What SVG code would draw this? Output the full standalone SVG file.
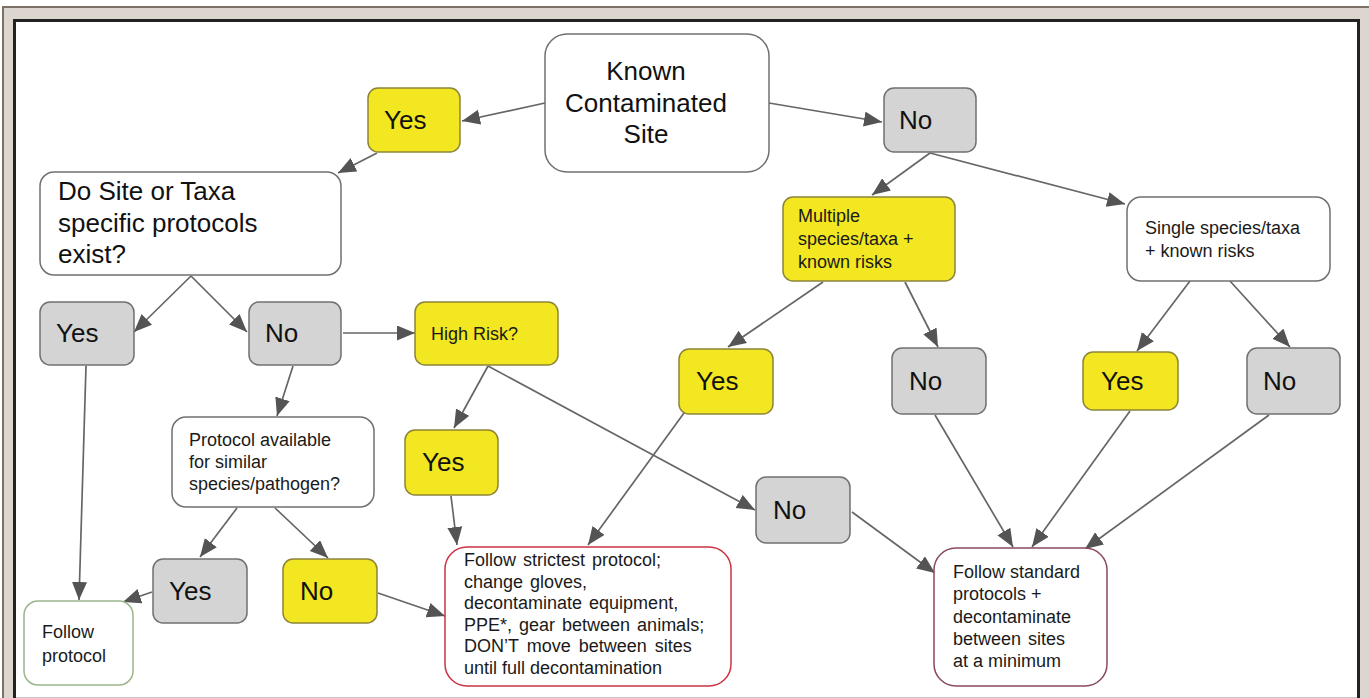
<svg xmlns="http://www.w3.org/2000/svg" width="1369" height="698" viewBox="0 0 1369 698">
<defs>
<marker id="ah" markerUnits="userSpaceOnUse" markerWidth="19" markerHeight="16" refX="18" refY="7.5" orient="auto" viewBox="0 0 19 16">
<path d="M0,0 L18,7.5 L0,15 Z" fill="#545454"/>
</marker>
</defs>
<style>
.big{font-family:"Liberation Sans",Arial,sans-serif;font-size:26px;fill:#111}
.sm{font-family:"Liberation Sans",Arial,sans-serif;font-size:18px;fill:#1a1a1a}
.y{fill:#f2e721;stroke:#8c8538;stroke-width:1.5}
.g{fill:#d4d4d4;stroke:#707070;stroke-width:1.5}
.w{fill:#fff;stroke:#707070;stroke-width:1.5}
#connectors line{stroke:#666;stroke-width:1.7;fill:none;marker-end:url(#ah)}
</style>
<rect width="1369" height="698" fill="#fff"/>
<rect x="3" y="7" width="1370" height="700" fill="#ddd6cf" stroke="#7d7065" stroke-width="2"/>
<rect x="16" y="22" width="1341" height="676" fill="#fff"/>
<path d="M14.5,698 V20.5 H1358.5 V698" fill="none" stroke="#222" stroke-width="3"/>
<line x1="16" y1="697.5" x2="1357" y2="697.5" stroke="#c8c8c8" stroke-width="1"/>

<g id="connectors">
<line x1="545" y1="103" x2="462" y2="121"/>
<line x1="769" y1="103" x2="882" y2="122"/>
<line x1="377" y1="153" x2="338" y2="173"/>
<line x1="930" y1="153" x2="872" y2="195"/>
<line x1="930" y1="153" x2="1125" y2="204"/>
<line x1="191" y1="276" x2="134" y2="332"/>
<line x1="191" y1="276" x2="247" y2="332"/>
<line x1="343" y1="333" x2="415" y2="333"/>
<line x1="293" y1="366" x2="277" y2="416"/>
<line x1="86" y1="366" x2="79" y2="600"/>
<line x1="488" y1="366" x2="454" y2="428"/>
<line x1="488" y1="366" x2="755" y2="510"/>
<line x1="823" y1="282" x2="728" y2="347"/>
<line x1="905" y1="282" x2="938" y2="347"/>
<line x1="1190" y1="281" x2="1137" y2="351"/>
<line x1="1230" y1="281" x2="1290" y2="347"/>
<line x1="692" y1="402" x2="588" y2="545"/>
<line x1="935" y1="415" x2="1013" y2="547"/>
<line x1="1130" y1="411" x2="1032" y2="547"/>
<line x1="1269" y1="415" x2="1085" y2="549"/>
<line x1="852" y1="512" x2="935" y2="573"/>
<line x1="451" y1="496" x2="457" y2="545"/>
<line x1="237" y1="508" x2="200" y2="557"/>
<line x1="275" y1="508" x2="328" y2="558"/>
<line x1="378" y1="593" x2="445" y2="616"/>
<line x1="152" y1="592" x2="123" y2="602"/>
</g>

<g id="n-known">
<rect class="w" x="545" y="34" width="224" height="138" rx="22"/>
<text class="big" x="646" y="80" text-anchor="middle">Known</text>
<text class="big" x="646" y="112" text-anchor="middle">Contaminated</text>
<text class="big" x="646" y="143" text-anchor="middle">Site</text>
</g>
<g id="n-yes-top">
<rect class="y" x="368" y="88" width="92" height="64" rx="10"/>
<text class="big" x="384" y="129">Yes</text>
</g>
<g id="n-no-top">
<rect class="g" x="884" y="88" width="92" height="64" rx="10"/>
<text class="big" x="899" y="129">No</text>
</g>
<g id="n-dosite">
<rect class="w" x="40" y="172" width="301" height="103" rx="14"/>
<text class="big" x="58" y="200">Do Site or Taxa</text>
<text class="big" x="58" y="232">specific protocols</text>
<text class="big" x="58" y="263">exist?</text>
</g>
<g id="n-yes-left">
<rect class="g" x="40" y="302" width="94" height="63" rx="10"/>
<text class="big" x="56" y="342">Yes</text>
</g>
<g id="n-no-left">
<rect class="g" x="249" y="302" width="92" height="63" rx="10"/>
<text class="big" x="265" y="342">No</text>
</g>
<g id="n-highrisk">
<rect class="y" x="415" y="302" width="143" height="63" rx="10"/>
<text class="sm" x="431" y="340">High Risk?</text>
</g>
<g id="n-protocol-available">
<rect class="w" x="172" y="417" width="202" height="90" rx="14"/>
<text class="sm" x="189" y="446">Protocol available</text>
<text class="sm" x="189" y="468">for similar</text>
<text class="sm" x="189" y="490">species/pathogen?</text>
</g>
<g id="n-yes-hr">
<rect class="y" x="405" y="430" width="93" height="65" rx="10"/>
<text class="big" x="422" y="471">Yes</text>
</g>
<g id="n-multiple">
<rect class="y" x="783" y="197" width="172" height="84" rx="10"/>
<text class="sm" x="798" y="222">Multiple</text>
<text class="sm" x="798" y="245">species/taxa +</text>
<text class="sm" x="798" y="268">known risks</text>
</g>
<g id="n-single">
<rect class="w" x="1127" y="197" width="203" height="84" rx="14"/>
<text class="sm" x="1145" y="234">Single species/taxa</text>
<text class="sm" x="1145" y="257">+ known risks</text>
</g>
<g id="n-yes-multi">
<rect class="y" x="679" y="349" width="94" height="65" rx="10"/>
<text class="big" x="696" y="390">Yes</text>
</g>
<g id="n-no-multi">
<rect class="g" x="892" y="348" width="94" height="66" rx="10"/>
<text class="big" x="909" y="390">No</text>
</g>
<g id="n-yes-single">
<rect class="y" x="1083" y="352" width="95" height="58" rx="10"/>
<text class="big" x="1101" y="390">Yes</text>
</g>
<g id="n-no-single">
<rect class="g" x="1247" y="348" width="93" height="66" rx="10"/>
<text class="big" x="1263" y="390">No</text>
</g>
<g id="n-no-hr">
<rect class="g" x="756" y="477" width="94" height="66" rx="10"/>
<text class="big" x="773" y="519">No</text>
</g>
<g id="n-yes-protocol">
<rect class="g" x="153" y="559" width="94" height="64" rx="10"/>
<text class="big" x="169" y="600">Yes</text>
</g>
<g id="n-no-protocol">
<rect class="y" x="283" y="559" width="94" height="64" rx="10"/>
<text class="big" x="300" y="600">No</text>
</g>
<g id="n-follow-protocol">
<rect x="24" y="601" width="109" height="84" rx="14" fill="#fff" stroke="#9bb58c" stroke-width="1.5"/>
<text class="sm" x="42" y="638">Follow</text>
<text class="sm" x="42" y="662">protocol</text>
</g>
<g id="n-strictest">
<rect x="445" y="547" width="286" height="139" rx="22" fill="#fff" stroke="#cc3344" stroke-width="1.5"/>
<text class="sm" x="464" y="566" word-spacing="2">Follow strictest protocol;</text>
<text class="sm" x="464" y="588" word-spacing="2">change gloves,</text>
<text class="sm" x="464" y="609" word-spacing="2">decontaminate equipment,</text>
<text class="sm" x="464" y="631" word-spacing="2">PPE*, gear between animals;</text>
<text class="sm" x="464" y="652" word-spacing="3">DON’T move between sites</text>
<text class="sm" x="464" y="674">until full decontamination</text>
</g>
<g id="n-standard">
<rect x="934" y="548" width="173" height="138" rx="22" fill="#fff" stroke="#8a4a5a" stroke-width="1.5"/>
<text class="sm" x="953" y="578">Follow standard</text>
<text class="sm" x="953" y="600">protocols +</text>
<text class="sm" x="953" y="623">decontaminate</text>
<text class="sm" x="953" y="645" word-spacing="2">between sites</text>
<text class="sm" x="953" y="667">at a minimum</text>
</g>
</svg>
